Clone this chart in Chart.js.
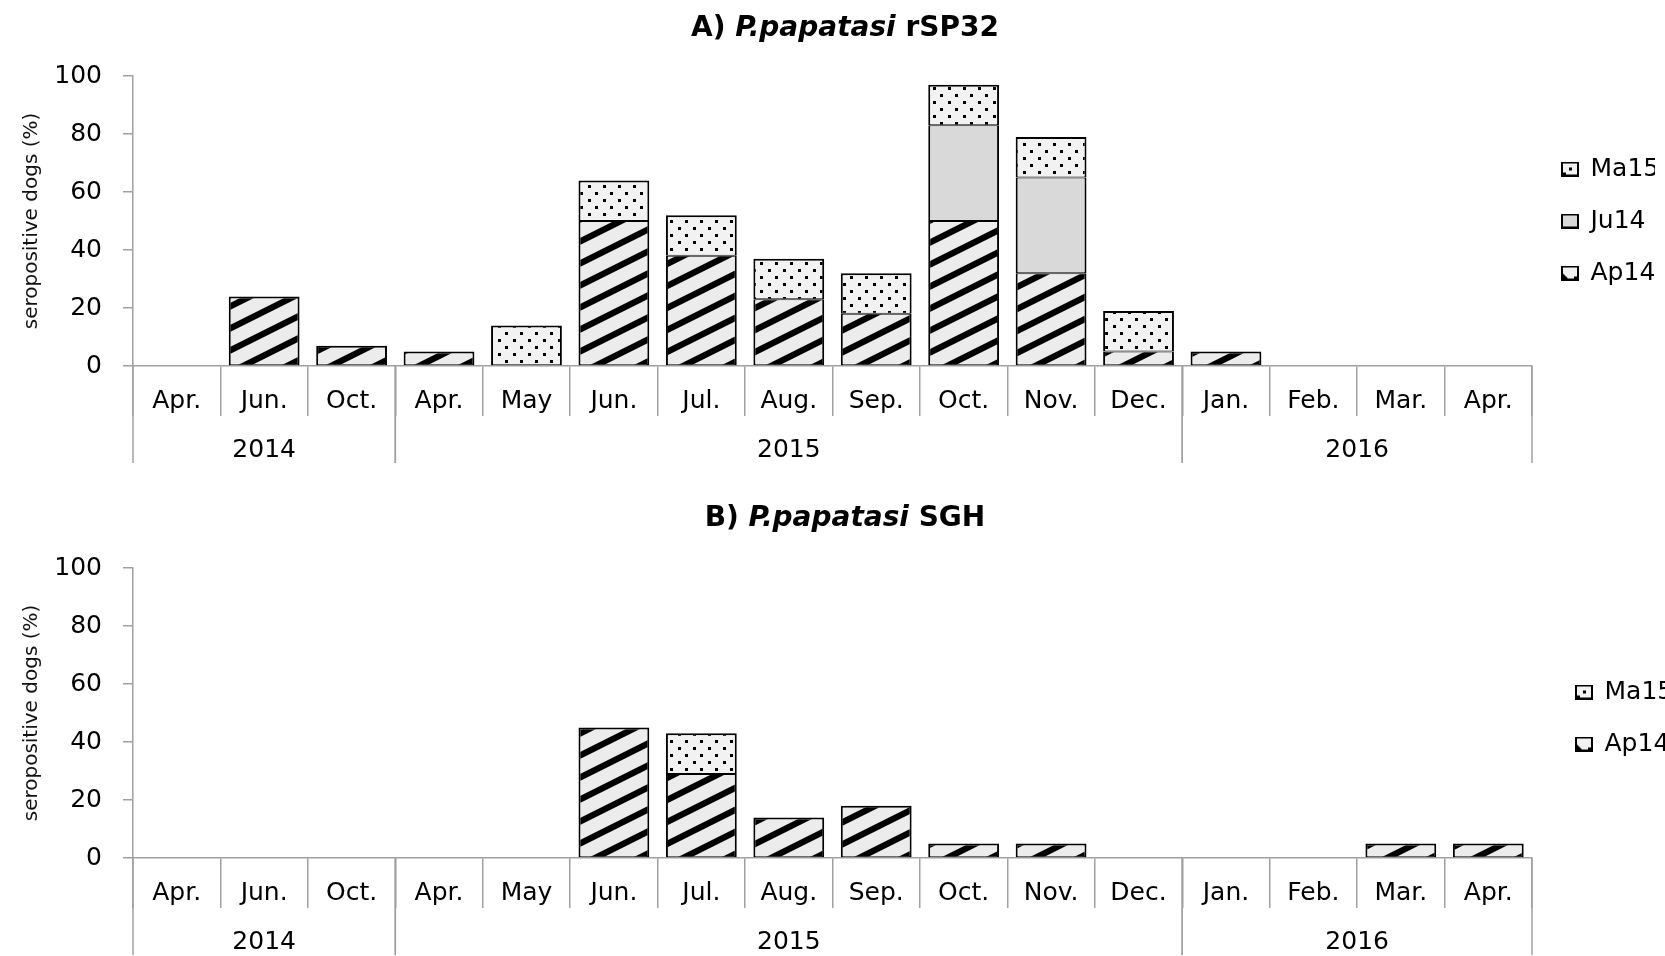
<!DOCTYPE html>
<html>
<head>
<meta charset="utf-8">
<script src="https://cdn.jsdelivr.net/npm/chart.js@4.4.1/dist/chart.umd.min.js"></script>
<style>
  html, body { margin: 0; padding: 0; background: #fff; overflow: hidden; width: 1665px; height: 956px; }
  canvas { position: absolute; left: 0; }
  #chartA { top: 0; }
  #chartB { top: 492px; }
</style>
</head>
<body>
<canvas id="chartA" width="1665" height="492"></canvas>
<canvas id="chartB" width="1665" height="492"></canvas>
<script>
// Sampling months, grouped by year
const months = ['Apr.', 'Jun.', 'Oct.', 'Apr.', 'May', 'Jun.', 'Jul.', 'Aug.', 'Sep.', 'Oct.', 'Nov.', 'Dec.', 'Jan.', 'Feb.', 'Mar.', 'Apr.'];
const years = ['2014', '2015', '2016'];
const monthsPerYear = [3, 9, 4];
const yTicks = [0, 20, 40, 60, 80, 100];

// A) P.papatasi rSP32 – seropositive dogs (%) by cohort
const rsp32Ap14 = [0, 24, 7, 5, 0, 50, 38, 23, 18, 50, 32, 5, 5, 0, 0, 0];
const rsp32Ju14 = [0, 0, 0, 0, 0, 0, 0, 0, 0, 33, 33, 0, 0, 0, 0, 0];
const rsp32Ma15 = [0, 0, 0, 0, 14, 14, 14, 14, 14, 14, 14, 14, 0, 0, 0, 0];

// B) P.papatasi SGH – seropositive dogs (%) by cohort
const sghAp14 = [0, 0, 0, 0, 0, 45, 29, 14, 18, 5, 5, 0, 0, 0, 5, 5];
const sghMa15 = [0, 0, 0, 0, 0, 0, 14, 0, 0, 0, 0, 0, 0, 0, 0, 0];

const titleA = ['A) ', 'P.papatasi', ' rSP32'];
const titleB = ['B) ', 'P.papatasi', ' SGH'];

const FONT = 'DejaVu Sans';
const AXIS_GREY = '#a0a0a0';
const TICK_SIZE = 25;
Chart.defaults.font.family = FONT;
Chart.defaults.color = '#000';

function stripePattern(ctx) {
  const W = 44, H = 22, t = 7;
  const c = document.createElement('canvas');
  c.width = W; c.height = H;
  const g = c.getContext('2d');
  g.fillStyle = '#ececec';
  g.fillRect(0, 0, W, H);
  g.fillStyle = '#000';
  for (let k = -1; k <= 1; k++) {
    g.beginPath();
    g.moveTo(0, H + k * H);
    g.lineTo(W, k * H);
    g.lineTo(W, k * H + t);
    g.lineTo(0, H + k * H + t);
    g.closePath();
    g.fill();
  }
  return ctx.createPattern(c, 'repeat');
}

function dotPattern(ctx) {
  const W = 15, H = 14;
  const c = document.createElement('canvas');
  c.width = W; c.height = H;
  const g = c.getContext('2d');
  g.fillStyle = '#f2f2f2';
  g.fillRect(0, 0, W, H);
  g.fillStyle = '#000';
  g.fillRect(3, 3, 3, 3);
  g.fillRect(10, 10, 3, 3);
  return ctx.createPattern(c, 'repeat');
}

function legendIcon(kind) {
  const c = document.createElement('canvas');
  c.width = 18; c.height = 15;
  const g = c.getContext('2d');
  g.fillStyle = kind === 'Ju14' ? '#d9d9d9' : '#f2f2f2';
  g.fillRect(1, 1, 16, 13);
  g.strokeStyle = '#000';
  g.lineWidth = 2;
  g.strokeRect(1, 1, 16, 13);
  g.fillStyle = '#000';
  if (kind === 'Ma15') {
    g.fillRect(8, 6, 3, 3);
    g.fillRect(2, 11, 3, 2);
  } else if (kind === 'Ap14') {
    g.beginPath();
    g.moveTo(2, 13); g.lineTo(2, 8); g.lineTo(7, 13); g.closePath(); g.fill();
    g.fillRect(13, 11, 3, 2);
  }
  return c;
}

// Year row under the month labels, long year separators and the mixed-style title
const panelDecor = {
  id: 'panelDecor',
  afterLayout(chart, args, opts) {
    const lg = chart.legend;
    if (!lg) return;
    const dx = chart.chartArea.right + (opts.legendShiftX || 0) - lg.left;
    const dy = opts.legendShiftY || 0;
    lg.left += dx; lg.right += dx;
    lg.top += dy; lg.bottom += dy;
  },
  afterDraw(chart, args, opts) {
    const ctx = chart.ctx;
    const xs = chart.scales.x;
    const half = (xs.getPixelForValue(1) - xs.getPixelForValue(0)) / 2;
    ctx.save();
    ctx.strokeStyle = AXIS_GREY;
    ctx.lineWidth = 1.5;
    ctx.fillStyle = '#000';
    ctx.font = TICK_SIZE + 'px "' + FONT + '"';
    ctx.textAlign = 'center';
    ctx.textBaseline = 'middle';
    let idx = 0;
    years.forEach((yr, i) => {
      const left = xs.getPixelForValue(idx) - half;
      const right = xs.getPixelForValue(idx + monthsPerYear[i] - 1) + half;
      ctx.fillText(yr, (left + right) / 2, xs.top + opts.yearOffset);
      [left, right].forEach(px => {
        ctx.beginPath();
        ctx.moveTo(px, xs.top);
        ctx.lineTo(px, xs.top + opts.yearLineLength);
        ctx.stroke();
      });
      idx += monthsPerYear[i];
    });

    // title: plain bold, italic species name, plain bold
    const parts = opts.title;
    const fonts = parts.map((_, i) => (i === 1 ? 'italic ' : '') + 'bold 28px "' + FONT + '"');
    const widths = parts.map((p, i) => { ctx.font = fonts[i]; return ctx.measureText(p).width; });
    const total = widths.reduce((a, b) => a + b, 0);
    let x = opts.titleX - total / 2;
    ctx.textAlign = 'left';
    ctx.textBaseline = 'middle';
    parts.forEach((p, i) => {
      ctx.font = fonts[i];
      ctx.fillText(p, x, opts.titleY);
      x += widths[i];
    });
    ctx.restore();
  }
};

function hasAbove(datasets, dsIndex, dataIndex) {
  for (let k = dsIndex + 1; k < datasets.length; k++) {
    if (datasets[k].data[dataIndex] > 0) return true;
  }
  return false;
}

function makeDataset(label, values, fill) {
  return {
    label,
    data: values,
    backgroundColor: fill,
    borderColor: '#000',
    borderSkipped: false,
    borderWidth: (c) => {
      const v = c.raw;
      if (!v) return 0;
      const top = hasAbove(c.chart.data.datasets, c.datasetIndex, c.dataIndex) ? 1 : 2;
      return { left: 2, right: 2, top, bottom: 1 };
    },
    barPercentage: 0.81,
    categoryPercentage: 1.0
  };
}

function buildChart(canvasId, datasets, icons, title, extra) {
  const canvas = document.getElementById(canvasId);
  const ctx = canvas.getContext('2d');
  const ds = datasets.map(d => makeDataset(d.label, d.values, d.fill(ctx)));
  return new Chart(ctx, {
    type: 'bar',
    data: { labels: months, datasets: ds },
    plugins: [panelDecor],
    options: {
      responsive: false,
      animation: false,
      devicePixelRatio: 1,
      layout: { padding: { top: 76, left: 0, right: 13, bottom: 76 } },
      scales: {
        x: {
          stacked: true,
          afterFit(s) { s.height = 50; },
          border: { display: true, color: AXIS_GREY, width: 1.5 },
          grid: { display: true, offset: true, drawOnChartArea: false, drawTicks: true, tickLength: 50, color: AXIS_GREY, lineWidth: 1.5 },
          ticks: { autoSkip: false, maxRotation: 0, padding: -30, font: { size: TICK_SIZE }, color: '#000' }
        },
        y: {
          stacked: true,
          min: 0,
          max: 100,
          afterFit(s) { s.width = 133; },
          afterBuildTicks(s) { s.ticks = yTicks.map(v => ({ value: v })); },
          border: { display: true, color: AXIS_GREY, width: 1.5 },
          grid: { display: true, drawOnChartArea: false, drawTicks: true, tickLength: 10, color: AXIS_GREY, lineWidth: 1.5 },
          ticks: { padding: 21, font: { size: TICK_SIZE }, color: '#000' },
          title: { display: true, text: 'seropositive dogs (%)', font: { size: 20 }, color: '#111', padding: { top: 20, bottom: 0 } }
        }
      },
      plugins: {
        legend: {
          display: true,
          position: 'right',
          reverse: true,
          maxWidth: 120,
          labels: {
            usePointStyle: true,
            pointStyleWidth: 16,
            padding: 27,
            color: '#000',
            font: { size: 25 },
            generateLabels(chart) {
              const items = Chart.defaults.plugins.legend.labels.generateLabels(chart);
              items.forEach(it => { it.pointStyle = icons[chart.data.datasets[it.datasetIndex].label]; });
              return items;
            }
          }
        },
        tooltip: { enabled: false },
        panelDecor: Object.assign({ title, titleX: 845, yearOffset: 84, yearLineLength: 97 }, extra)
      }
    }
  });
}

const icons = { Ap14: legendIcon('Ap14'), Ju14: legendIcon('Ju14'), Ma15: legendIcon('Ma15') };

buildChart('chartA', [
  { label: 'Ap14', values: rsp32Ap14, fill: stripePattern },
  { label: 'Ju14', values: rsp32Ju14, fill: () => '#d9d9d9' },
  { label: 'Ma15', values: rsp32Ma15, fill: dotPattern }
], icons, titleA, { titleY: 29, legendShiftX: 3, legendShiftY: -25 });

buildChart('chartB', [
  { label: 'Ap14', values: sghAp14, fill: stripePattern },
  { label: 'Ma15', values: sghMa15, fill: dotPattern }
], icons, titleB, { titleY: 27, legendShiftX: 17, legendShiftY: -20 });
</script>
</body>
</html>
